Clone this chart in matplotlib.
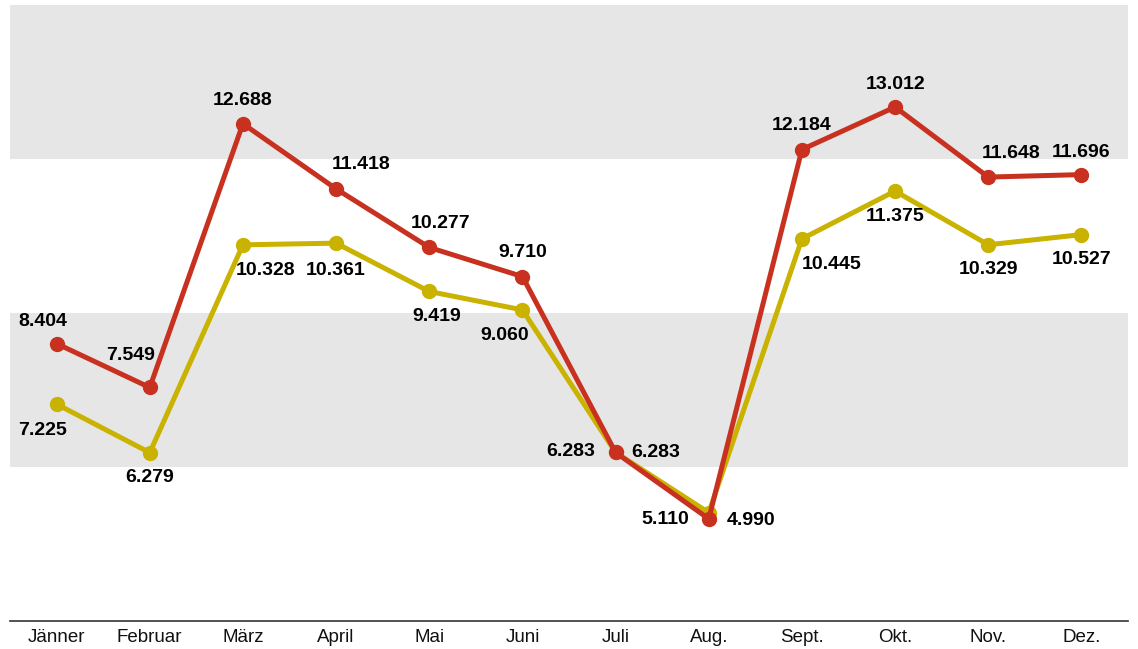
import matplotlib.pyplot as plt

months = ["Jänner", "Februar", "März", "April", "Mai", "Juni",
          "Juli", "Aug.", "Sept.", "Okt.", "Nov.", "Dez."]
red_values = [8.404, 7.549, 12.688, 11.418, 10.277, 9.710,
              6.283, 4.990, 12.184, 13.012, 11.648, 11.696]
yellow_values = [7.225, 6.279, 10.328, 10.361, 9.419, 9.060,
                 6.283, 5.110, 10.445, 11.375, 10.329, 10.527]

# label offsets in pixels (dx, dy), dy positive = up
red_offsets = [(-14, 22), (-19, 32), (0, 23), (25, 24), (11, 24), (0, 24),
               (40, 0), (42, -2), (0, 24), (0, 23), (23, 24), (0, 22)]
yellow_offsets = [(-14, -26), (0, -25), (23, -26), (0, -27), (8, -25), (-18, -26),
                  (-45, 1), (-43, -7), (30, -26), (0, -25), (0, -25), (0, -25)]

RED = "#C8311F"
YELLOW = "#C9B200"

plt.rcParams['font.family'] = ['Liberation Sans', 'DejaVu Sans']

fig = plt.figure(figsize=(11.38, 6.49), dpi=100)
ax = fig.add_axes([10 / 1138, 1 - 621 / 649, 1118 / 1138, 616 / 649])

x = list(range(len(months)))
ax.axhspan(12, 15, color="#E6E6E6", zorder=0, lw=0)
ax.axhspan(6, 9, color="#E6E6E6", zorder=0, lw=0)

ax.plot(x, yellow_values, color=YELLOW, lw=3.6, marker="o", markersize=10, zorder=3)
ax.plot(x, red_values, color=RED, lw=3.6, marker="o", markersize=10, zorder=4)

for i in x:
    for vals, offs in ((red_values, red_offsets), (yellow_values, yellow_offsets)):
        ax.annotate(f"{vals[i]:.3f}", (i, vals[i]), xytext=(offs[i][0] * 0.72, offs[i][1] * 0.72),
                    textcoords="offset points", ha="center", va="center",
                    fontsize=14, fontweight="bold", color="#000000", zorder=5)

ax.set_xlim(-0.5, 11.5)
ax.set_ylim(3, 15)
ax.set_xticks(x)
ax.set_xticklabels(months, fontsize=13.5, color="#111111")
ax.tick_params(axis="x", length=0, pad=6)
ax.set_yticks([])
for side in ("left", "right", "top"):
    ax.spines[side].set_visible(False)
ax.spines["bottom"].set_color("#333333")
ax.spines["bottom"].set_linewidth(1.2)

fig.savefig("out.png", dpi=100)
